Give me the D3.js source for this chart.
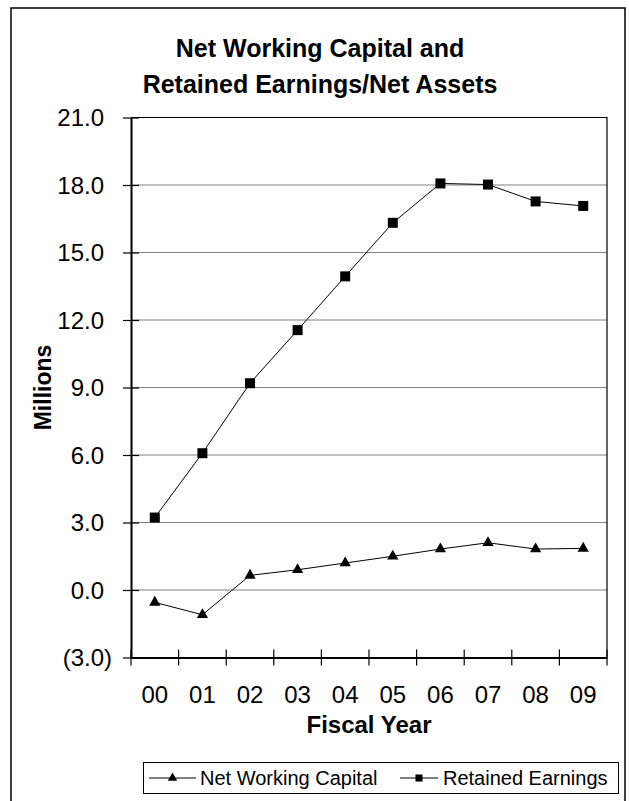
<!DOCTYPE html>
<html><head><meta charset="utf-8">
<script src="https://cdn.jsdelivr.net/npm/d3@7"></script>
<style>body{margin:0;background:#fff}svg{display:block}text{font-family:"Liberation Sans",Arial,sans-serif;fill:#000}</style>
</head><body>
<svg id="c" width="629" height="801"></svg>
<script>
const years = ["00","01","02","03","04","05","06","07","08","09"];
const netWorkingCapital = [-0.55, -1.1, 0.65, 0.9, 1.2, 1.5, 1.82, 2.1, 1.82, 1.85];
const retainedEarnings = [3.22, 6.08, 9.19, 11.55, 13.94, 16.32, 18.07, 18.02, 17.27, 17.07];
const yTicks = [-3, 0, 3, 6, 9, 12, 15, 18, 21];
const titleLines = ["Net Working Capital and", "Retained Earnings/Net Assets"];

const svg = d3.select("#c");
const L = 131, R = 607, T = 117.5, B = 657.5;
const x = d3.scaleBand().domain(years).range([L, R]);
const y = d3.scaleLinear().domain([-3, 21]).range([B, T]);
const fmt = v => v < 0 ? "(" + d3.format(".1f")(-v) + ")" : d3.format(".1f")(v);

// outer border
svg.append("rect").attr("x", 11).attr("y", 8).attr("width", 614).attr("height", 820)
  .attr("fill", "none").attr("stroke", "#000").attr("stroke-width", 1.5);

// title
svg.append("g").selectAll("text").data(titleLines).join("text")
  .attr("x", 320).attr("y", (d, i) => 57 + i * 36)
  .attr("text-anchor", "middle").attr("font-weight", "bold").attr("font-size", 25)
  .text(d => d);

// gridlines
svg.append("g").selectAll("line").data(yTicks.filter(t => t > -3 && t < 21)).join("line")
  .attr("x1", L).attr("x2", R).attr("y1", d => y(d)).attr("y2", d => y(d))
  .attr("stroke", "#808080").attr("stroke-width", 1);

// plot border top/right
svg.append("path").attr("d", `M${L},${T}H${R}V${B}`).attr("fill", "none").attr("stroke", "#000").attr("stroke-width", 1.2);

// y axis
const yAxis = svg.append("g").attr("transform", `translate(${L},0)`)
  .call(d3.axisLeft(y).tickValues(yTicks).tickFormat(fmt).tickSizeOuter(0).tickSizeInner(8).tickPadding(20));
yAxis.select(".domain").attr("stroke", "#000").attr("stroke-width", 2);
yAxis.selectAll(".tick line").attr("x2", 8).attr("x1", -8).attr("stroke", "#000").attr("stroke-width", 1.2);
yAxis.selectAll(".tick text").attr("font-size", 24).attr("font-family", "Liberation Sans, Arial, sans-serif")
  .attr("x", d => d < 0 ? -19 : -27).attr("dy", "0.35em");

// x axis
const xAxis = svg.append("g").attr("transform", `translate(0,${B})`)
  .call(d3.axisBottom(x).tickSize(0).tickSizeOuter(0).tickPadding(30));
xAxis.select(".domain").attr("stroke", "#000").attr("stroke-width", 2);
xAxis.selectAll(".tick text").attr("font-size", 24).attr("font-family", "Liberation Sans, Arial, sans-serif").attr("y", 45).attr("dy", "0");
const bounds = years.map(d => x(d)).concat([R]);
xAxis.append("g").selectAll("line").data(bounds).join("line")
  .attr("x1", d => d).attr("x2", d => d).attr("y1", -8).attr("y2", 8)
  .attr("stroke", "#000").attr("stroke-width", 1.2);

// axis titles
svg.append("text").attr("transform", `translate(51,${(T + B) / 2}) rotate(-90)`)
  .attr("text-anchor", "middle").attr("font-weight", "bold").attr("font-size", 23).text("Millions");
svg.append("text").attr("x", (L + R) / 2).attr("y", 733)
  .attr("text-anchor", "middle").attr("font-weight", "bold").attr("font-size", 24).text("Fiscal Year");

const cx = d => x(d) + x.bandwidth() / 2;
const line = d3.line().x(d => cx(d.k)).y(d => y(d.v));
const nwc = years.map((k, i) => ({ k, v: netWorkingCapital[i] }));
const re = years.map((k, i) => ({ k, v: retainedEarnings[i] }));

svg.append("path").datum(nwc).attr("d", line).attr("fill", "none").attr("stroke", "#000").attr("stroke-width", 1);
svg.append("path").datum(re).attr("d", line).attr("fill", "none").attr("stroke", "#000").attr("stroke-width", 1);

const tri = d3.symbol().type(d3.symbolTriangle).size(55);
const sq = d3.symbol().type(d3.symbolSquare).size(100);
svg.append("g").selectAll("path").data(nwc).join("path")
  .attr("transform", d => `translate(${cx(d.k)},${y(d.v)})`).attr("d", tri).attr("fill", "#000");
svg.append("g").selectAll("path").data(re).join("path")
  .attr("transform", d => `translate(${cx(d.k)},${y(d.v)})`).attr("d", sq).attr("fill", "#000");

// legend
const lg = svg.append("g");
lg.append("rect").attr("x", 143.5).attr("y", 762.5).attr("width", 475).attr("height", 31)
  .attr("fill", "#fff").attr("stroke", "#000").attr("stroke-width", 1);
const legendItems = [
  { name: "Net Working Capital", kind: "tri", x0: 149, x1: 196, tx: 200 },
  { name: "Retained Earnings", kind: "sq", x0: 400, x1: 438, tx: 443 }
];
legendItems.forEach(it => {
  lg.append("line").attr("x1", it.x0).attr("x2", it.x1).attr("y1", 778).attr("y2", 778).attr("stroke", "#000");
  lg.append("path").attr("d", it.kind === "tri" ? d3.symbol().type(d3.symbolTriangle).size(38)() : d3.symbol().type(d3.symbolSquare).size(50)())
    .attr("transform", `translate(${(it.x0 + it.x1) / 2},778)`).attr("fill", "#000");
  lg.append("text").attr("x", it.tx).attr("y", 785).attr("font-size", 20).text(it.name);
});
</script>
</body></html>
